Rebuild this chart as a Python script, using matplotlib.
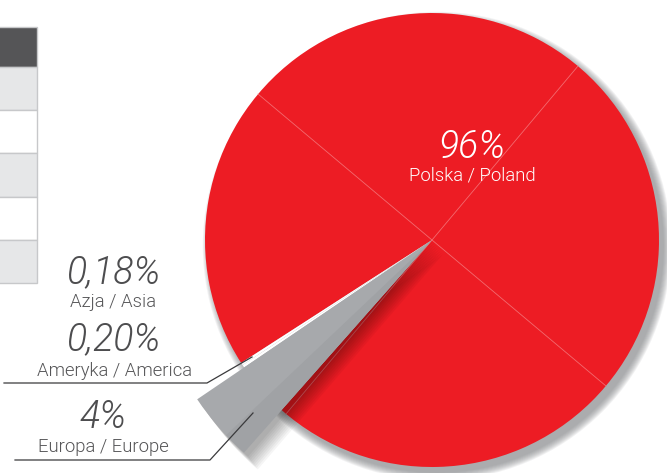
import matplotlib
matplotlib.use("Agg")
import matplotlib.pyplot as plt
from matplotlib.patches import Wedge, Circle, Rectangle
import numpy as np

# share of sales by region
regions = ["Polska / Poland", "Azja / Asia", "Ameryka / America", "Europa / Europe"]
shares = [96, 0.18, 0.20, 4]
share_labels = ["96%", "0,18%", "0,20%", "4%"]
slice_colors = ["#ed1c24", "#ffffff", "#ffffff", "#a7a9ac"]

# stripes of the table cut at the left edge
table_rows = ["#555557", "#e6e7e8", "#ffffff", "#e6e7e8", "#ffffff", "#e6e7e8"]

W, H = 667, 473


def ypix(y):
    # convert a top-down pixel row into axis units (y up)
    return H - y


fig = plt.figure(figsize=(W / 100, H / 100), dpi=100)
ax = fig.add_axes([0, 0, 1, 1])

cx, cy, r = 432, ypix(240), 227

# soft grey shadow behind the pie
for k in range(9):
    ax.add_patch(Circle((cx + 5, cy - 6), r + k * 0.9, color="#7d7f82",
                        alpha=0.10, lw=0, zorder=1))

wedges, _ = ax.pie(shares, colors=slice_colors, startangle=228.5,
                   counterclock=True, center=(cx, cy), radius=r,
                   wedgeprops=dict(linewidth=0))
for w in wedges:
    w.set_zorder(2)

# thin lighter lines splitting the red area in quarters
for ang in [50, 140, 230, 320]:
    a = np.radians(ang)
    ax.plot([cx, cx + r * np.cos(a)], [cy, cy + r * np.sin(a)],
            color="#f36b70", lw=0.6, zorder=3)

# europe slice drawn longer, with its own shadow
eu = wedges[3]
eu.set_radius(r * 1.25)
eu.set_zorder(6)
for k in range(1, 10):
    ax.add_patch(Wedge((cx + 1.2 * k, cy - 1.6 * k), r * 1.25, eu.theta1 + 0.5,
                       eu.theta2 + 0.8, color="black", alpha=0.04, lw=0,
                       zorder=4))
# slightly darker lower part of the europe slice
mid = eu.theta1 + (eu.theta2 - eu.theta1) * 0.65
ax.add_patch(Wedge((cx, cy), r * 1.25, mid, eu.theta2, color="#a0a2a5",
                   lw=0, zorder=7))

# table fragment
edges = [27, 67, 110, 153, 197, 240, 283]
for i, col in enumerate(table_rows):
    y0, y1 = edges[i], edges[i + 1]
    ax.add_patch(Rectangle((-2, ypix(y1)), 39, y1 - y0, facecolor=col,
                           edgecolor="#c7c8ca", lw=1, zorder=2))

# labels
fam = ["Roboto", "DejaVu Sans"]
pct_font = dict(family=fam, style="italic", weight=300, fontsize=27,
                ha="center", va="center")
lab_font = dict(family=fam, weight=300, fontsize=13.3, ha="center",
                va="center")

ax.text(472, ypix(147), share_labels[0], color="white", zorder=10, **pct_font)
ax.text(472, ypix(176), regions[0], color="white", zorder=10, **lab_font)

ax.text(113, ypix(273), share_labels[1], color="#4d4d4f", **pct_font)
ax.text(113, ypix(302), regions[1], color="#555557", **lab_font)
ax.text(113, ypix(340), share_labels[2], color="#4d4d4f", **pct_font)
ax.text(115, ypix(371), regions[2], color="#555557", **lab_font)
ax.text(103, ypix(417), share_labels[3], color="#4d4d4f", **pct_font)
ax.text(103, ypix(447), regions[3], color="#555557", **lab_font)

# leader lines
ax.plot([4, 207, 252], [ypix(383), ypix(383), ypix(357)],
        color="#3a3a3c", lw=0.9, zorder=9)
ax.plot([15, 210, 253], [ypix(460), ypix(460), ypix(413)],
        color="#3a3a3c", lw=0.9, zorder=9)

# pie() resets the view, so fix the pixel frame afterwards
ax.set_xlim(0, W)
ax.set_ylim(0, H)
ax.set_aspect("auto")
ax.axis("off")

fig.savefig("out.png", dpi=100)
